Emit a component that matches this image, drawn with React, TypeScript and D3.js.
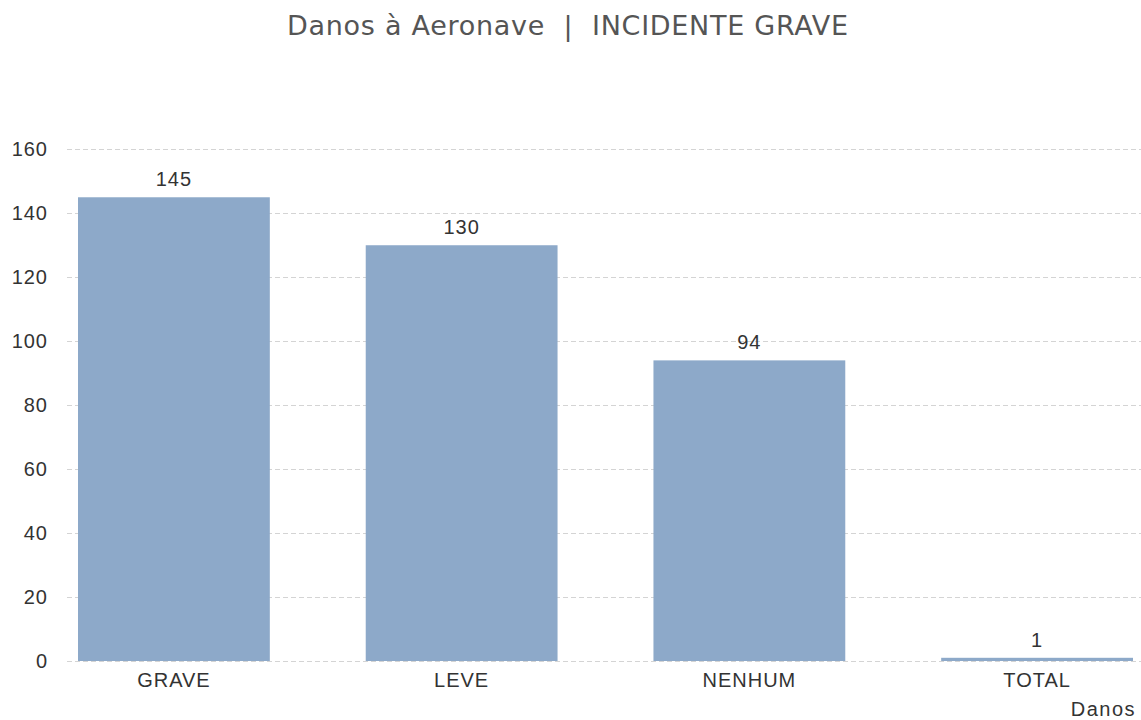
import React from "react";
import * as d3 from "d3";

const categories = ["GRAVE", "LEVE", "NENHUM", "TOTAL"];
const values = [145, 130, 94, 1];
const yTicks = [0, 20, 40, 60, 80, 100, 120, 140, 160];
const title = "Danos à Aeronave\u00a0\u00a0|\u00a0\u00a0INCIDENTE GRAVE";
const xAxisTitle = "Danos";

export default function App() {
  const W = 1141, H = 720;
  const x = d3.scaleBand<string>().domain(categories).range([78, 1133]).paddingInner(1 / 3).paddingOuter(0);
  const y = d3.scaleLinear().domain([0, 160]).range([661, 149.3]);
  const font = "'Liberation Sans', Arial, sans-serif";
  return (
    <svg width={W} height={H} style={{ position: "absolute", left: 0, top: 0, background: "#fff" }}>
      <text x={287} y={35} textAnchor="start" textLength={561} lengthAdjust="spacing" fontFamily="'DejaVu Sans', sans-serif" fontSize={27} fill="#555">{title}</text>
      {yTicks.map((t) => (
        <g key={t}>
          <line x1={67} x2={W} y1={Math.round(y(t)) + 0.5} y2={Math.round(y(t)) + 0.5} stroke="#d4d4d4" strokeDasharray="5,3" />
          <text x={48} y={y(t) + 7} textAnchor="end" fontFamily={font} fontSize={20} letterSpacing={1} fill="#333">{t}</text>
        </g>
      ))}
      {categories.map((c, i) => (
        <g key={c}>
          <rect x={x(c)} y={y(values[i])} width={x.bandwidth()} height={y(0) - y(values[i])} fill="#8da9c9" />
          <text x={(x(c) as number) + x.bandwidth() / 2} y={y(values[i]) - 11} textAnchor="middle" fontFamily={font} fontSize={20} letterSpacing={1} fill="#333">{values[i]}</text>
          <text x={(x(c) as number) + x.bandwidth() / 2} y={687} textAnchor="middle" fontFamily={font} fontSize={20} letterSpacing={1} fill="#333">{c}</text>
        </g>
      ))}
      <text x={1136} y={716} textAnchor="end" fontFamily={font} fontSize={20} letterSpacing={1.5} fill="#333">{xAxisTitle}</text>
    </svg>
  );
}
